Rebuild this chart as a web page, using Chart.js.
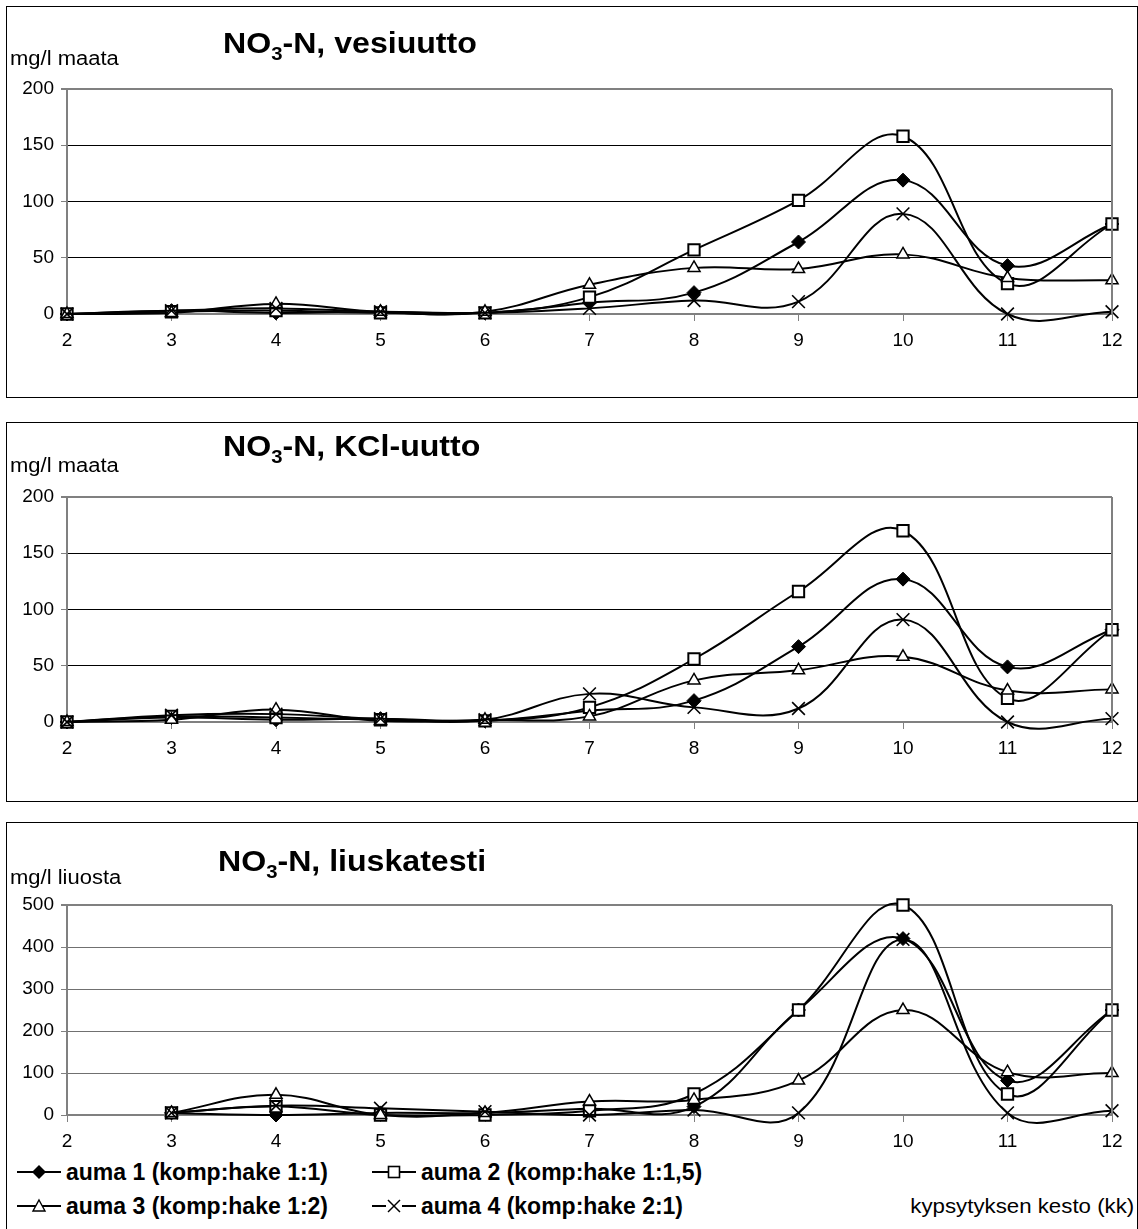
<!DOCTYPE html>
<html><head><meta charset="utf-8">
<script src="https://cdn.jsdelivr.net/npm/chart.js@4/dist/chart.umd.min.js"></script>
<style>
body{margin:0;background:#fff;width:1138px;height:1229px;overflow:hidden;position:relative;font-family:"Liberation Sans",Arial,sans-serif;color:#000}
.panel{position:absolute;left:6px;width:1132px;border:1px solid #000;box-sizing:border-box}
canvas{position:absolute;left:0}
.title{position:absolute;font-weight:bold;font-size:30px;line-height:31px;white-space:nowrap;transform:scaleX(1.07);transform-origin:left center}
.title sub{font-size:19px;line-height:0;vertical-align:-7px}
.unit{position:absolute;font-size:20px;line-height:21px;white-space:nowrap;transform:scaleX(1.1);transform-origin:left center}
.leg{position:absolute;font-weight:bold;font-size:23px;line-height:24px;white-space:nowrap;display:flex;align-items:center}
.leg svg{margin-right:5px}
.xt{position:absolute;font-size:21px;line-height:22px;white-space:nowrap;transform:scaleX(1.06);transform-origin:right center}
</style></head>
<body>
<div class="panel" style="top:6px;height:392px"></div>
<div class="panel" style="top:422px;height:380px"></div>
<div class="panel" style="top:822px;height:420px"></div>
<canvas id="c1" width="1138" height="354" style="top:0"></canvas>
<canvas id="c2" width="1138" height="340" style="top:422px"></canvas>
<canvas id="c3" width="1138" height="333" style="top:822px"></canvas>

<div class="title" style="left:223px;top:27px">NO<sub>3</sub>-N, vesiuutto</div>
<div class="unit" style="left:10px;top:48px">mg/l maata</div>
<div class="title" style="left:223px;top:430px">NO<sub>3</sub>-N, KCl-uutto</div>
<div class="unit" style="left:10px;top:455px">mg/l maata</div>
<div class="title" style="left:218px;top:845px">NO<sub>3</sub>-N, liuskatesti</div>
<div class="unit" style="left:10px;top:867px">mg/l liuosta</div>

<div class="leg" style="left:17px;top:1160px"><svg width="44" height="20"><line x1="0" y1="10" x2="44" y2="10" stroke="#000" stroke-width="2"/><polygon points="22,3 29,10 22,17 15,10" fill="#000"/></svg>auma 1 (komp:hake 1:1)</div>
<div class="leg" style="left:372px;top:1160px"><svg width="44" height="20"><line x1="0" y1="10" x2="44" y2="10" stroke="#000" stroke-width="2"/><rect x="16.5" y="4.5" width="11" height="11" fill="#fff" stroke="#000" stroke-width="1.6"/></svg>auma 2 (komp:hake 1:1,5)</div>
<div class="leg" style="left:17px;top:1194px"><svg width="44" height="20"><line x1="0" y1="10" x2="44" y2="10" stroke="#000" stroke-width="2"/><polygon points="22,4 28,15 16,15" fill="#fff" stroke="#000" stroke-width="1.4"/></svg>auma 3 (komp:hake 1:2)</div>
<div class="leg" style="left:372px;top:1194px"><svg width="44" height="20"><line x1="0" y1="10" x2="14" y2="10" stroke="#000" stroke-width="2"/><line x1="30" y1="10" x2="44" y2="10" stroke="#000" stroke-width="2"/><line x1="16" y1="4" x2="28" y2="16" stroke="#000" stroke-width="1.5"/><line x1="28" y1="4" x2="16" y2="16" stroke="#000" stroke-width="1.5"/></svg>auma 4 (komp:hake 2:1)</div>
<div class="xt" style="right:4px;top:1195px">kypsytyksen kesto (kk)</div>

<script>
// ---- data ----
const months = ['2','3','4','5','6','7','8','9','10','11','12'];
const seriesNames = ['auma 1 (komp:hake 1:1)','auma 2 (komp:hake 1:1,5)','auma 3 (komp:hake 1:2)','auma 4 (komp:hake 2:1)'];

// NO3-N, vesiuutto (mg/l maata)
const vesiAuma1 = [0, 3, 1, 2, 1, 10, 19, 64, 119, 43, 80];
const vesiAuma2 = [0, 2, 3, 1, 1, 15, 57, 101, 158, 27, 80];
const vesiAuma3 = [0, 1, 9, 2, 2, 26, 41, 40, 53, 32, 30];
const vesiAuma4 = [0, 3, 5, 2, 1, 5, 12, 11, 89, 0, 2];

// NO3-N, KCl-uutto (mg/l maata)
const kclAuma1 = [0, 4, 2, 3, 1, 10, 19, 67, 127, 49, 82];
const kclAuma2 = [0, 5, 4, 2, 1, 13, 56, 116, 170, 21, 82];
const kclAuma3 = [0, 2, 11, 1, 2, 5, 37, 46, 58, 28, 29];
const kclAuma4 = [0, 6, 7, 3, 2, 25, 13, 12, 91, 0, 3];

// NO3-N, liuskatesti (mg/l liuosta)
const liusAuma1 = [null, 5, 0, 5, 5, 15, 20, 250, 420, 82, 250];
const liusAuma2 = [null, 5, 20, 0, 0, 10, 50, 250, 500, 50, 250];
const liusAuma3 = [null, 5, 48, 0, 5, 32, 36, 82, 250, 102, 100];
const liusAuma4 = [null, 5, 22, 16, 8, 0, 12, 5, 418, 5, 10];

const yTicksMaata = [0, 50, 100, 150, 200];
const yTicksLiuos = [0, 100, 200, 300, 400, 500];

// ---- styles ----
const FONT = '"Liberation Sans", Arial, sans-serif';
const markerStyles = [
  {pointStyle:'rectRot', pointRadius:7, pointBackgroundColor:'#000', pointBorderColor:'#000', pointBorderWidth:1},
  {pointStyle:'rect', pointRadius:8, pointBackgroundColor:'#fff', pointBorderColor:'#000', pointBorderWidth:2},
  {pointStyle:'triangle', pointRadius:7, pointBackgroundColor:'#fff', pointBorderColor:'#000', pointBorderWidth:1.5},
  {pointStyle:'crossRot', pointRadius:9, pointBackgroundColor:'#fff', pointBorderColor:'#000', pointBorderWidth:1.6}
];

const frameRight = {
  id:'frameRight',
  afterDatasetsDraw(chart){
    const a = chart.chartArea, c = chart.ctx;
    c.save(); c.strokeStyle='#808080'; c.lineWidth=2;
    c.beginPath(); c.moveTo(a.right, a.top); c.lineTo(a.right, a.bottom); c.stroke();
    c.restore();
  }
};

function makeChart(id, seriesData, ticks, padTop, gridCol){
  const yMax = ticks[ticks.length-1];
  const step = ticks[1]-ticks[0];
  const datasets = seriesData.map((d,i)=>Object.assign({
    label: seriesNames[i], data: d, borderColor:'#000', borderWidth:2,
    tension:0.4, fill:false, clip:false, order: 3-i
  }, markerStyles[i]));
  return new Chart(document.getElementById(id), {
    type:'line',
    data:{labels: months, datasets},
    options:{
      responsive:false, animation:false, devicePixelRatio:1,
      layout:{padding:{top:padTop, right:26, left:0, bottom:0}},
      elements:{line:{capBezierPoints:false}},
      plugins:{legend:{display:false}, tooltip:{enabled:false}, title:{display:false}},
      scales:{
        x:{type:'category', offset:false,
           grid:{display:true, drawOnChartArea:false, drawTicks:true, tickLength:7, tickColor:'#808080', color:'#808080'},
           border:{color:'#808080', width:2},
           ticks:{color:'#000', font:{family:FONT, size:19}, padding:8, maxRotation:0, autoSkip:false},
           afterFit(s){ s.height = 40; }
        },
        y:{min:0, max:yMax,
           afterBuildTicks(s){ s.ticks = ticks.map(v=>({value:v})); },
           grid:{color:(ctx)=> (ctx.tick && (ctx.tick.value===yMax || ctx.tick.value===0)) ? '#808080' : gridCol,
                 lineWidth:(ctx)=> (ctx.tick && ctx.tick.value===yMax) ? 2 : 1,
                 tickLength:6, tickColor:'#808080', drawTicks:true},
           border:{color:'#808080', width:2},
           ticks:{color:'#000', font:{family:FONT, size:19}, padding:7, stepSize:step},
           afterFit(s){ s.width = 67; }
        }
      }
    },
    plugins:[frameRight]
  });
}

makeChart('c1', [vesiAuma1, vesiAuma2, vesiAuma3, vesiAuma4], yTicksMaata, 89, '#000');
makeChart('c2', [kclAuma1, kclAuma2, kclAuma3, kclAuma4], yTicksMaata, 75, '#000');
makeChart('c3', [liusAuma1, liusAuma2, liusAuma3, liusAuma4], yTicksLiuos, 83, '#707070');
</script>
</body></html>
